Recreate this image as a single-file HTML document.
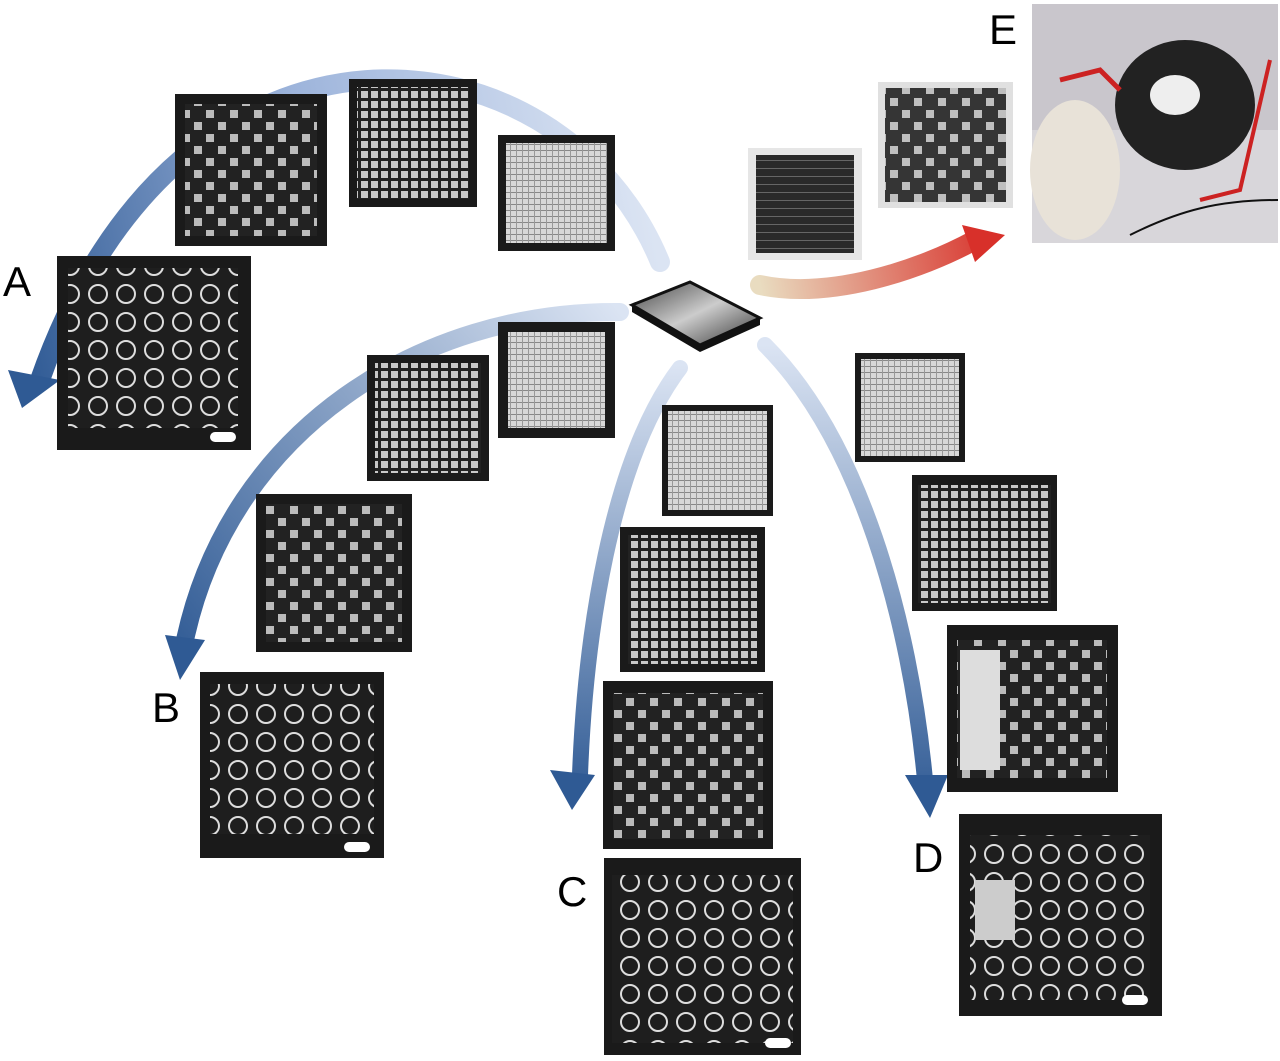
<!DOCTYPE html>
<html><head><meta charset="utf-8"><style>
html,body{margin:0;padding:0;background:#fff;}
svg{display:block;}
text{font-family:"Liberation Sans",sans-serif;font-size:42px;fill:#000;}
</style></head><body>
<svg width="1280" height="1061" viewBox="0 0 1280 1061">
<defs>
<linearGradient id="gA" x1="660" y1="265" x2="30" y2="400" gradientUnits="userSpaceOnUse"><stop offset="0" stop-color="#dbe4f3"/><stop offset="0.5" stop-color="#9db4db"/><stop offset="1" stop-color="#2f5a94"/></linearGradient>
<linearGradient id="gB" x1="620" y1="312" x2="180" y2="670" gradientUnits="userSpaceOnUse"><stop offset="0" stop-color="#dbe4f3"/><stop offset="1" stop-color="#2f5a94"/></linearGradient>
<linearGradient id="gC" x1="0" y1="365" x2="0" y2="800" gradientUnits="userSpaceOnUse"><stop offset="0" stop-color="#dbe4f3"/><stop offset="1" stop-color="#2f5a94"/></linearGradient>
<linearGradient id="gD" x1="0" y1="345" x2="0" y2="810" gradientUnits="userSpaceOnUse"><stop offset="0" stop-color="#dbe4f3"/><stop offset="1" stop-color="#2f5a94"/></linearGradient>
<linearGradient id="gE" x1="760" y1="285" x2="1000" y2="240" gradientUnits="userSpaceOnUse"><stop offset="0" stop-color="#e9dcc0"/><stop offset="1" stop-color="#d8302a"/></linearGradient>
<linearGradient id="gPlate" x1="0" y1="0" x2="1" y2="1"><stop offset="0" stop-color="#444"/><stop offset="0.5" stop-color="#ccc"/><stop offset="1" stop-color="#333"/></linearGradient>
<pattern id="pDense" width="6" height="6" patternUnits="userSpaceOnUse"><rect width="6" height="6" fill="#d8d8d8"/><rect width="6" height="1" fill="#888"/><rect width="1" height="6" fill="#999"/></pattern>
<pattern id="pMid" width="10" height="10" patternUnits="userSpaceOnUse"><rect width="10" height="10" fill="#222"/><rect x="1" y="1" width="7" height="7" fill="#c8c8c8"/></pattern>
<pattern id="pSparse" width="28" height="28" patternUnits="userSpaceOnUse"><rect width="28" height="28" fill="#1e1e1e"/><circle cx="14" cy="14" r="9" fill="none" stroke="#ddd" stroke-width="2"/></pattern>
<pattern id="pOpen" width="24" height="24" patternUnits="userSpaceOnUse"><rect width="24" height="24" fill="#222"/><rect x="2" y="2" width="8" height="8" fill="#bbb"/><rect x="14" y="14" width="8" height="8" fill="#bbb"/></pattern>
<pattern id="pBlack" width="8" height="8" patternUnits="userSpaceOnUse"><rect width="8" height="8" fill="#2a2a2a"/><rect width="8" height="1" fill="#666"/></pattern>
</defs>

<!-- arrows -->
<g fill="none" stroke-linecap="round">
<path d="M660 262 C560 20 180 -20 40 380" stroke="url(#gA)" stroke-width="20"/>
<path d="M620 312 C420 310 230 430 185 640" stroke="url(#gB)" stroke-width="18"/>
<path d="M680 368 C610 460 585 640 580 775" stroke="url(#gC)" stroke-width="16"/>
<path d="M765 345 C860 440 910 620 925 780" stroke="url(#gD)" stroke-width="16"/>
<path d="M760 285 C830 300 920 270 975 240" stroke="url(#gE)" stroke-width="20"/>
</g>
<polygon points="8,370 60,380 22,408" fill="#2f5a94"/>
<polygon points="165,635 205,640 180,680" fill="#2f5a94"/>
<polygon points="550,770 595,775 572,810" fill="#2f5a94"/>
<polygon points="905,775 948,775 930,818" fill="#2f5a94"/>
<polygon points="962,225 1005,235 975,262" fill="#d8302a"/>

<!-- center plate -->
<polygon points="632,305 690,282 760,318 700,345" fill="url(#gPlate)" stroke="#111" stroke-width="3"/>
<polygon points="700,345 760,318 760,325 700,352 632,312 632,305" fill="#111"/>

<!-- A -->
<g>
<rect x="175" y="94" width="152" height="152" fill="#1a1a1a"/><rect x="185" y="104" width="132" height="132" fill="url(#pOpen)"/>
<rect x="349" y="79" width="128" height="128" fill="#1a1a1a"/><rect x="357" y="87" width="112" height="112" fill="url(#pMid)"/>
<rect x="498" y="135" width="117" height="116" fill="#1a1a1a"/><rect x="506" y="143" width="101" height="100" fill="url(#pDense)"/>
<rect x="57" y="256" width="194" height="194" fill="#1a1a1a"/><rect x="68" y="268" width="170" height="160" fill="url(#pSparse)"/>
<rect x="210" y="432" width="26" height="10" rx="5" fill="#fff"/>
</g>
<!-- B -->
<g>
<rect x="367" y="355" width="122" height="126" fill="#1a1a1a"/><rect x="375" y="363" width="106" height="110" fill="url(#pMid)"/>
<rect x="498" y="322" width="117" height="116" fill="#1a1a1a"/><rect x="508" y="332" width="97" height="96" fill="url(#pDense)"/>
<rect x="256" y="494" width="156" height="158" fill="#1a1a1a"/><rect x="266" y="504" width="136" height="138" fill="url(#pOpen)"/>
<rect x="200" y="672" width="184" height="186" fill="#1a1a1a"/><rect x="210" y="684" width="164" height="150" fill="url(#pSparse)"/>
<rect x="344" y="842" width="26" height="10" rx="5" fill="#fff"/>
</g>
<!-- C -->
<g>
<rect x="662" y="405" width="111" height="111" fill="#1a1a1a"/><rect x="668" y="411" width="99" height="99" fill="url(#pDense)"/>
<rect x="620" y="527" width="145" height="145" fill="#1a1a1a"/><rect x="628" y="535" width="129" height="129" fill="url(#pMid)"/>
<rect x="603" y="681" width="170" height="168" fill="#1a1a1a"/><rect x="613" y="693" width="150" height="146" fill="url(#pOpen)"/>
<rect x="604" y="858" width="197" height="197" fill="#1a1a1a"/><rect x="612" y="875" width="181" height="168" fill="url(#pSparse)"/>
<rect x="765" y="1038" width="26" height="10" rx="5" fill="#fff"/>
</g>
<!-- D -->
<g>
<rect x="855" y="353" width="110" height="109" fill="#1a1a1a"/><rect x="861" y="359" width="98" height="97" fill="url(#pDense)"/>
<rect x="912" y="475" width="145" height="136" fill="#1a1a1a"/><rect x="918" y="485" width="133" height="118" fill="url(#pMid)"/>
<rect x="947" y="625" width="171" height="167" fill="#1a1a1a"/><rect x="957" y="640" width="150" height="138" fill="url(#pOpen)"/><rect x="960" y="650" width="40" height="120" fill="#ddd"/>
<rect x="959" y="814" width="203" height="202" fill="#1a1a1a"/><rect x="970" y="835" width="180" height="165" fill="url(#pSparse)"/><rect x="975" y="880" width="40" height="60" fill="#ccc"/>
<rect x="1122" y="995" width="26" height="10" rx="5" fill="#fff"/>
</g>
<!-- E -->
<g>
<rect x="748" y="148" width="114" height="112" fill="#e6e6e6"/><rect x="756" y="155" width="98" height="98" fill="url(#pBlack)"/>
<rect x="878" y="82" width="135" height="126" fill="#e0e0e0"/><rect x="885" y="88" width="121" height="114" fill="url(#pOpen)" opacity="0.9"/>
<rect x="1032" y="4" width="246" height="239" fill="#c9c6cc"/>
<rect x="1032" y="130" width="246" height="113" fill="#d8d6da"/>
<ellipse cx="1185" cy="105" rx="70" ry="65" fill="#222"/>
<ellipse cx="1175" cy="95" rx="25" ry="20" fill="#eee"/>
<ellipse cx="1075" cy="170" rx="45" ry="70" fill="#e8e2d8"/>
<path d="M1060 80 L1100 70 L1120 90" stroke="#c22" stroke-width="5" fill="none"/>
<path d="M1200 200 L1240 190 L1270 60" stroke="#c22" stroke-width="4" fill="none"/>
<path d="M1130 235 C1180 210 1220 200 1278 200" stroke="#111" stroke-width="2" fill="none"/>
</g>

<text x="3" y="296">A</text>
<text x="152" y="722">B</text>
<text x="557" y="906">C</text>
<text x="913" y="872">D</text>
<text x="989" y="44">E</text>
</svg>
</body></html>
